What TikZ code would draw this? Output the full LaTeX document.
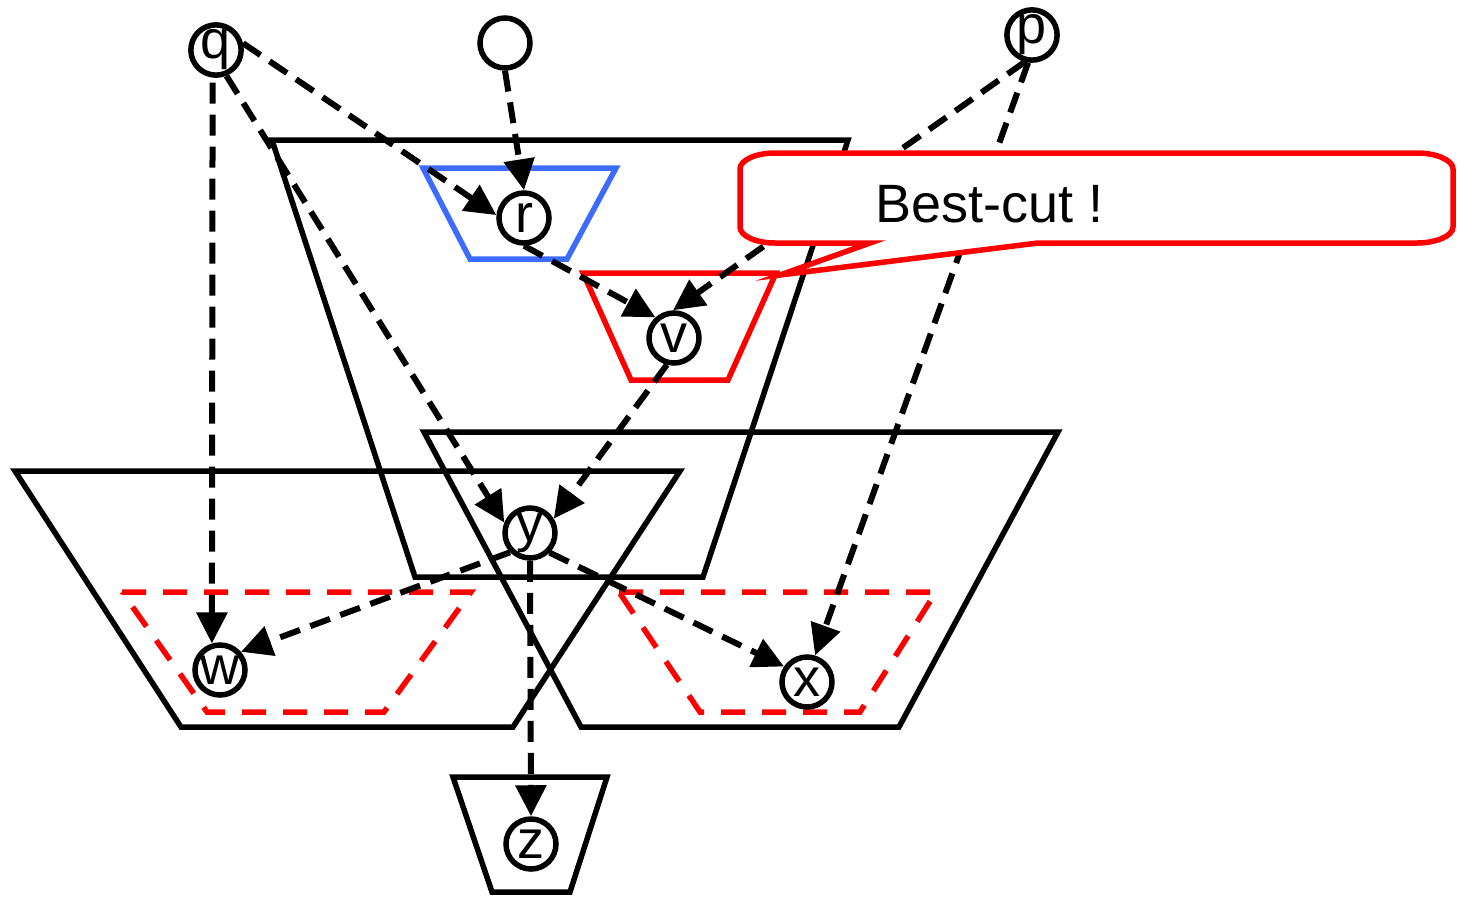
\documentclass[tikz,border=0pt]{standalone}
\usepackage{fontspec}
\setmainfont{Liberation Sans}
\usepackage{tikz}
\usetikzlibrary{arrows.meta}
\definecolor{cutblue}{RGB}{59,107,255}
\tikzset{
  vtx/.style      = {circle,draw,line width=5.5pt,minimum size=50pt,inner sep=0pt,
                     font=\fontsize{54}{60}\selectfont},
  cutarr/.style   = {-{Triangle[length=31pt,width=30pt]},line width=6pt,
                     dash pattern=on 21pt off 11pt},
  blockline/.style= {line width=5.5pt},
  cutline/.style  = {red,line width=5.5pt,dash pattern=on 24pt off 17pt},
  balloon/.style  = {draw=red,fill=white,line width=5.5pt}
}

\begin{document}
\begin{tikzpicture}[x=1pt,y=-1pt]
  \useasboundingbox (0,0) rectangle (1459,898);
  % blocks
  \draw[blockline] (272,140) -- (848,140) -- (703,577) -- (415,577) -- cycle;
  \draw[blockline] (15,471) -- (680,471) -- (513,727) -- (181,727) -- cycle;
  \draw[blockline] (424,432) -- (1058,432) -- (899,727) -- (581,727) -- cycle;
  \draw[blockline] (453,777) -- (607,777) -- (570,892) -- (492,892) -- cycle;
  \draw[blockline,cutblue] (423,168) -- (616,168) -- (567,259) -- (470,259) -- cycle;
  \draw[blockline,red] (583,273) -- (776,273) -- (728,380) -- (631,380) -- cycle;
  \draw[cutline] (122,592) -- (471,592) -- (384,712) -- (207,712) -- cycle;
  \draw[cutline] (619,592) -- (936,592) -- (860,712) -- (700,712) -- cycle;
  % vertices
  \node[vtx] (q) at (216,50)  {q};
  \node[vtx] (o) at (505,43)  {};
  \node[vtx] (p) at (1032,35) {p};
  \node[vtx] (r) at (524,218) {r};
  \node[vtx] (v) at (674,338) {v};
  \node[vtx] (y) at (530,533) {y};
  \node[vtx] (w) at (220,670) {w};
  \node[vtx] (x) at (807,682) {x};
  \node[vtx] (z) at (531,844) {z};
  % edges
  \draw[cutarr] (q.14)    -- (r.174);
  \draw[cutarr] (o.south) -- (r.north);
  \draw[cutarr] (q.-68)   -- (y.158);
  \draw[cutarr,dash phase=27pt] (q.263) -- (w.107);
  \draw[cutarr] (r.south) -- (v.132);
  \draw[cutarr] (p.255)   -- (v.92);
  \draw[cutarr] (p.262)   -- (x.73);
  \draw[cutarr] (v.255)   -- (y.31);
  \draw[cutarr] (y.224)   -- (w.41);
  \draw[cutarr] (y.-45)   -- (x.146);
  \draw[cutarr] (y.south) -- (z.north);
  % callout
  \draw[balloon] (775,153) -- (1417,153)
        .. controls (1436,153) and (1453,160) .. (1453,169) -- (1453,227)
        .. controls (1453,236) and (1436,243) .. (1417,243) -- (1038,243)
        -- (780,275) -- (870,243) -- (775,243)
        .. controls (756,243) and (740,236) .. (740,227) -- (740,169)
        .. controls (740,160) and (756,153) .. (775,153) -- cycle;
  \node[anchor=base west,inner sep=0pt,font=\fontsize{54}{60}\selectfont]
        (cut) at (875,222) {Best-cut !};
\end{tikzpicture}
\end{document}
